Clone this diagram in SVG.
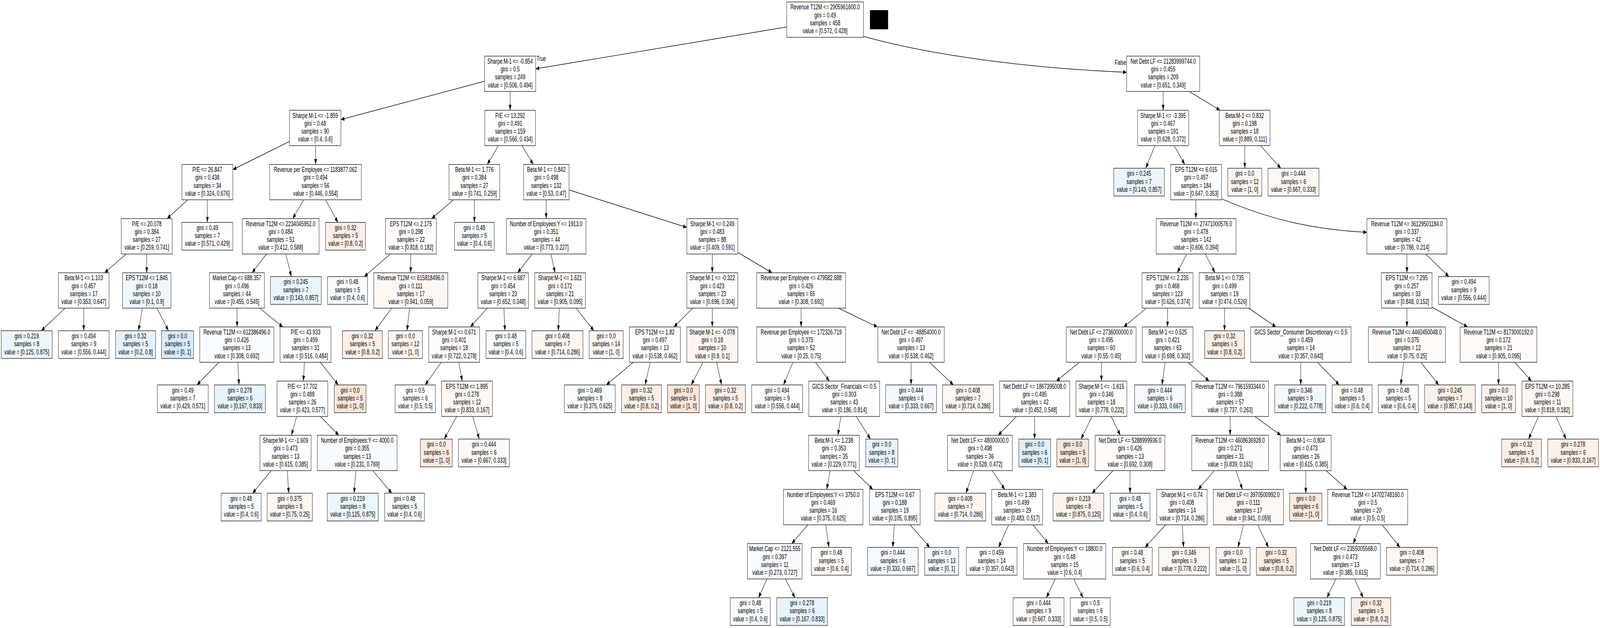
<svg xmlns="http://www.w3.org/2000/svg" width="6439" height="1607" viewBox="0 0 6439 1607" preserveAspectRatio="none">
<style>
svg{width:100vw;height:100vh}
.t{font-family:"Liberation Sans",Arial,Helvetica,sans-serif;font-size:18.7px;fill:#000;text-anchor:middle}
.lb{font-family:"Liberation Sans",Arial,Helvetica,sans-serif;font-size:18.7px;fill:#000}
rect.d,rect.l{stroke:#404040;stroke-width:1.7}
.e{fill:none;stroke:#000;stroke-width:1.4;marker-end:url(#ah)}
</style>
<defs>
<marker id="ah" markerUnits="userSpaceOnUse" markerWidth="14" markerHeight="11" viewBox="0 0 14 11" refX="14" refY="5.5" orient="auto"><path d="M0,0 L14,5.5 L0,11 z" fill="#000"/></marker>
</defs>
<rect x="0" y="0" width="6439" height="1607" fill="#ffffff"/>
<g id="connectors">
<path class="e" d="M3166,69 L2156,176"/>
<path class="e" d="M3475,93 C3680,130 4050,172 4534,185"/>
<path class="e" d="M1950,208 L1372,306"/>
<path class="e" d="M2053,234.1 L2053,282.2"/>
<path class="e" d="M1165,362 L937,434"/>
<path class="e" d="M1270,372.7 L1270,420.8"/>
<path class="e" d="M755,511.3 L672.5,559.4"/>
<path class="e" d="M834.5,511.3 L834.5,569.15"/>
<path class="e" d="M508,649.9 L421,698"/>
<path class="e" d="M590.5,649.9 L590.5,698"/>
<path class="e" d="M262,788.5 L166,846.35"/>
<path class="e" d="M337,788.5 L337,846.35"/>
<path class="e" d="M573,788.5 L557.5,846.35"/>
<path class="e" d="M631.5,788.5 L677.7,846.35"/>
<path class="e" d="M1222,511.3 L1178,559.4"/>
<path class="e" d="M1310,511.3 L1360,569.15"/>
<path class="e" d="M1072,649.9 L1014.5,698"/>
<path class="e" d="M1150,649.9 L1172.6,707.75"/>
<path class="e" d="M954,788.5 L954,836.6"/>
<path class="e" d="M1045,788.5 L1138,836.6"/>
<path class="e" d="M881,927.1 L792.7,984.95"/>
<path class="e" d="M957,927.1 L962,984.95"/>
<path class="e" d="M1225,927.1 L1221,975.2"/>
<path class="e" d="M1289,927.1 L1361.5,984.95"/>
<path class="e" d="M1194,1065.7 L1172.6,1113.8"/>
<path class="e" d="M1289,1065.7 L1363.6,1113.8"/>
<path class="e" d="M1091.5,1204.3 L1016.5,1262.15"/>
<path class="e" d="M1156,1204.3 L1162,1262.15"/>
<path class="e" d="M1432,1204.3 L1425,1262.15"/>
<path class="e" d="M1500,1204.3 L1577,1262.15"/>
<path class="e" d="M2006,372.7 L1961,420.8"/>
<path class="e" d="M2101,372.7 L2146,420.8"/>
<path class="e" d="M1824.6,511.3 L1737,559.4"/>
<path class="e" d="M1909,511.3 L1909,569.15"/>
<path class="e" d="M1571,649.9 L1466,707.75"/>
<path class="e" d="M1653,649.9 L1653,698"/>
<path class="e" d="M1576,788.5 L1509,846.35"/>
<path class="e" d="M1648,788.5 L1638,846.35"/>
<path class="e" d="M2198,511.3 L2198,559.4"/>
<path class="e" d="M2290,486 L2764,582"/>
<path class="e" d="M2142,649.9 L2083,698"/>
<path class="e" d="M2217,649.9 L2234,698"/>
<path class="e" d="M1961,788.5 L1893,836.6"/>
<path class="e" d="M2028,788.5 L2032,846.35"/>
<path class="e" d="M1776,927.1 L1711,984.95"/>
<path class="e" d="M1846,927.1 L1860.5,975.2"/>
<path class="e" d="M1838,1065.7 L1787.6,1123.55"/>
<path class="e" d="M1902.6,1065.7 L1929,1123.55"/>
<path class="e" d="M2251,788.5 L2246.6,846.35"/>
<path class="e" d="M2318.5,788.5 L2390,846.35"/>
<path class="e" d="M2866.5,649.9 L2866.5,698"/>
<path class="e" d="M2969.5,646 L3107,698"/>
<path class="e" d="M2788,788.5 L2712,836.6"/>
<path class="e" d="M2866.5,788.5 L2866.5,836.6"/>
<path class="e" d="M2548.5,927.1 L2440,984.95"/>
<path class="e" d="M2617,927.1 L2595.7,984.95"/>
<path class="e" d="M2829,927.1 L2781.6,984.95"/>
<path class="e" d="M2884,927.1 L2904,984.95"/>
<path class="e" d="M3224,788.5 L3224,836.6"/>
<path class="e" d="M3374,788.5 L3531,836.6"/>
<path class="e" d="M3191,927.1 L3153,984.95"/>
<path class="e" d="M3281.6,927.1 L3338,975.2"/>
<path class="e" d="M3384,1065.7 L3372,1113.8"/>
<path class="e" d="M3446,1065.7 L3503,1123.55"/>
<path class="e" d="M3341,1204.3 L3327,1252.4"/>
<path class="e" d="M3435.6,1204.3 L3512.6,1252.4"/>
<path class="e" d="M3251,1342.9 L3186,1391"/>
<path class="e" d="M3323,1342.9 L3336,1400.75"/>
<path class="e" d="M3086.5,1481.5 L3052.6,1529.5"/>
<path class="e" d="M3160.5,1481.5 L3199.5,1529.5"/>
<path class="e" d="M3599,1342.9 L3592.7,1400.75"/>
<path class="e" d="M3662.5,1342.9 L3741.6,1400.75"/>
<path class="e" d="M3666.5,927.1 L3666.5,984.95"/>
<path class="e" d="M3740.6,927.1 L3837,984.95"/>
<path class="e" d="M4681,234.1 L4681,282.2"/>
<path class="e" d="M4786,234.1 L4910,282.2"/>
<path class="e" d="M5009.5,372.7 L5009.5,430.55"/>
<path class="e" d="M5073,372.7 L5154.5,430.55"/>
<path class="e" d="M4648,372.7 L4611,430.55"/>
<path class="e" d="M4725,372.7 L4768,420.8"/>
<path class="e" d="M4812.6,511.3 L4812.6,559.4"/>
<path class="e" d="M4916,508.7 C5120,565 5300,588 5501,594.4"/>
<path class="e" d="M5662,649.9 L5662,698"/>
<path class="e" d="M5737,649.9 L5831,707.75"/>
<path class="e" d="M5662,788.5 L5662,836.6"/>
<path class="e" d="M5763,786 L5906,836.6"/>
<path class="e" d="M5649,927.1 L5637,984.95"/>
<path class="e" d="M5718,927.1 L5790,984.95"/>
<path class="e" d="M6030.5,927.1 L6030.5,984.95"/>
<path class="e" d="M6096,927.1 L6163,975.2"/>
<path class="e" d="M6191.5,1065.7 L6151.5,1123.55"/>
<path class="e" d="M6262,1065.7 L6302.4,1123.55"/>
<path class="e" d="M4775.6,649.9 L4737.6,698"/>
<path class="e" d="M4850.5,649.9 L4889.6,698"/>
<path class="e" d="M4928,788.5 L4928,846.35"/>
<path class="e" d="M5025,788.5 L5135,836.6"/>
<path class="e" d="M5234.6,927.1 L5234.6,984.95"/>
<path class="e" d="M5302,927.1 L5389.6,984.95"/>
<path class="e" d="M4613.5,788.5 L4522,836.6"/>
<path class="e" d="M4698.6,788.5 L4698.6,836.6"/>
<path class="e" d="M4344,927.1 L4251,975.2"/>
<path class="e" d="M4432.6,927.1 L4432.6,975.2"/>
<path class="e" d="M4090.7,1065.7 L4017,1113.8"/>
<path class="e" d="M4163.6,1065.7 L4163.6,1123.55"/>
<path class="e" d="M3918,1204.3 L3887.4,1262.15"/>
<path class="e" d="M3993,1204.3 L4043.5,1252.4"/>
<path class="e" d="M4059,1342.9 L4018.8,1400.75"/>
<path class="e" d="M4156.5,1342.9 L4219,1391"/>
<path class="e" d="M4247,1481.5 L4211,1529.5"/>
<path class="e" d="M4320.7,1481.5 L4358.7,1529.5"/>
<path class="e" d="M4394.6,1065.7 L4350.5,1123.55"/>
<path class="e" d="M4471.7,1065.7 L4508.6,1113.8"/>
<path class="e" d="M4479,1204.3 L4394.6,1262.15"/>
<path class="e" d="M4547.6,1204.3 L4547.6,1262.15"/>
<path class="e" d="M4689,927.1 L4676,984.95"/>
<path class="e" d="M4781,927.1 L4866,975.2"/>
<path class="e" d="M4950.5,1065.7 L4950.5,1113.8"/>
<path class="e" d="M5049.7,1065.7 L5154.5,1113.8"/>
<path class="e" d="M4886.5,1204.3 L4822,1252.4"/>
<path class="e" d="M4974,1204.3 L5000,1252.4"/>
<path class="e" d="M4691,1342.9 L4608,1400.75"/>
<path class="e" d="M4758,1342.9 L4763,1400.75"/>
<path class="e" d="M5004.5,1342.9 L4982,1400.75"/>
<path class="e" d="M5061,1342.9 L5105,1400.75"/>
<path class="e" d="M5255,1204.3 L5255,1262.15"/>
<path class="e" d="M5337,1204.3 L5421.4,1252.4"/>
<path class="e" d="M5475,1342.9 L5446,1391"/>
<path class="e" d="M5562,1342.9 L5634,1400.75"/>
<path class="e" d="M5376,1481.5 L5340,1529.5"/>
<path class="e" d="M5451,1481.5 L5486,1529.5"/>
<text class="lb" x="2159" y="156">True</text>
<text class="lb" x="4532" y="166" text-anchor="end">False</text>
</g>
<rect x="3501" y="26" width="73" height="49" fill="#000000"/>
<g id="n0" transform="translate(3320.5,50.25)"><rect class="d" x="-154.5" y="-45.25" width="309" height="90.5" fill="#ffffff"/><text class="t"><tspan x="0" y="-25.95">Revenue T12M &lt;= 2905961600.0</tspan><tspan x="0" y="-5.7">gini = 0.49</tspan><tspan x="0" y="14.55">samples = 458</tspan><tspan x="0" y="34.8">value = [0.572, 0.428]</tspan></text></g>
<g id="n1" transform="translate(2053,188.85)"><rect class="d" x="-103" y="-45.25" width="206" height="90.5" fill="#ffffff"/><text class="t"><tspan x="0" y="-25.95">Sharpe:M-1 &lt;= -0.854</tspan><tspan x="0" y="-5.7">gini = 0.5</tspan><tspan x="0" y="14.55">samples = 249</tspan><tspan x="0" y="34.8">value = [0.506, 0.494]</tspan></text></g>
<g id="n2" transform="translate(4681,188.85)"><rect class="d" x="-147" y="-45.25" width="294" height="90.5" fill="#ffffff"/><text class="t"><tspan x="0" y="-25.95">Net Debt LF &lt;= 21283999744.0</tspan><tspan x="0" y="-5.7">gini = 0.455</tspan><tspan x="0" y="14.55">samples = 209</tspan><tspan x="0" y="34.8">value = [0.651, 0.349]</tspan></text></g>
<g id="n3" transform="translate(1268.5,327.45)"><rect class="d" x="-103.5" y="-45.25" width="207" height="90.5" fill="#ffffff"/><text class="t"><tspan x="0" y="-25.95">Sharpe:M-1 &lt;= -1.859</tspan><tspan x="0" y="-5.7">gini = 0.48</tspan><tspan x="0" y="14.55">samples = 90</tspan><tspan x="0" y="34.8">value = [0.4, 0.6]</tspan></text></g>
<g id="n4" transform="translate(2053,327.45)"><rect class="d" x="-102" y="-45.25" width="204" height="90.5" fill="#ffffff"/><text class="t"><tspan x="0" y="-25.95">P/E &lt;= 13.292</tspan><tspan x="0" y="-5.7">gini = 0.491</tspan><tspan x="0" y="14.55">samples = 159</tspan><tspan x="0" y="34.8">value = [0.566, 0.434]</tspan></text></g>
<g id="n5" transform="translate(834.5,466.05)"><rect class="d" x="-102.5" y="-45.25" width="205" height="90.5" fill="#fdfeff"/><text class="t"><tspan x="0" y="-25.95">P/E &lt;= 26.847</tspan><tspan x="0" y="-5.7">gini = 0.438</tspan><tspan x="0" y="14.55">samples = 34</tspan><tspan x="0" y="34.8">value = [0.324, 0.676]</tspan></text></g>
<g id="n6" transform="translate(1269.5,466.05)"><rect class="d" x="-184.5" y="-45.25" width="369" height="90.5" fill="#ffffff"/><text class="t"><tspan x="0" y="-25.95">Revenue per Employee &lt;= 1183877.062</tspan><tspan x="0" y="-5.7">gini = 0.494</tspan><tspan x="0" y="14.55">samples = 56</tspan><tspan x="0" y="34.8">value = [0.446, 0.554]</tspan></text></g>
<g id="n7" transform="translate(590.5,604.65)"><rect class="d" x="-102.5" y="-45.25" width="205" height="90.5" fill="#fbfdff"/><text class="t"><tspan x="0" y="-25.95">P/E &lt;= 20.078</tspan><tspan x="0" y="-5.7">gini = 0.384</tspan><tspan x="0" y="14.55">samples = 27</tspan><tspan x="0" y="34.8">value = [0.259, 0.741]</tspan></text></g>
<g id="n8" transform="translate(834.5,604.65)"><rect class="l" x="-102.5" y="-35.5" width="205" height="71" fill="#fefcfb"/><text class="t"><tspan x="0" y="-15.8">gini = 0.49</tspan><tspan x="0" y="4.45">samples = 7</tspan><tspan x="0" y="24.7">value = [0.571, 0.429]</tspan></text></g>
<g id="n9" transform="translate(337,743.25)"><rect class="d" x="-102" y="-45.25" width="204" height="90.5" fill="#fbfdff"/><text class="t"><tspan x="0" y="-25.95">Beta:M-1 &lt;= 1.103</tspan><tspan x="0" y="-5.7">gini = 0.457</tspan><tspan x="0" y="14.55">samples = 17</tspan><tspan x="0" y="34.8">value = [0.353, 0.647]</tspan></text></g>
<g id="n10" transform="translate(590.5,743.25)"><rect class="d" x="-97.5" y="-45.25" width="195" height="90.5" fill="#eff7fd"/><text class="t"><tspan x="0" y="-25.95">EPS T12M &lt;= 1.845</tspan><tspan x="0" y="-5.7">gini = 0.18</tspan><tspan x="0" y="14.55">samples = 10</tspan><tspan x="0" y="34.8">value = [0.1, 0.9]</tspan></text></g>
<g id="n11" transform="translate(107.5,881.85)"><rect class="l" x="-102.5" y="-35.5" width="205" height="71" fill="#ecf6fd"/><text class="t"><tspan x="0" y="-15.8">gini = 0.219</tspan><tspan x="0" y="4.45">samples = 8</tspan><tspan x="0" y="24.7">value = [0.125, 0.875]</tspan></text></g>
<g id="n12" transform="translate(337,881.85)"><rect class="l" x="-102" y="-35.5" width="204" height="71" fill="#fffdfc"/><text class="t"><tspan x="0" y="-15.8">gini = 0.494</tspan><tspan x="0" y="4.45">samples = 9</tspan><tspan x="0" y="24.7">value = [0.556, 0.444]</tspan></text></g>
<g id="n13" transform="translate(545.5,881.85)"><rect class="l" x="-80.5" y="-35.5" width="161" height="71" fill="#e6f3fc"/><text class="t"><tspan x="0" y="-15.8">gini = 0.32</tspan><tspan x="0" y="4.45">samples = 5</tspan><tspan x="0" y="24.7">value = [0.2, 0.8]</tspan></text></g>
<g id="n14" transform="translate(714.5,881.85)"><rect class="l" x="-64.5" y="-35.5" width="129" height="71" fill="#d7ebfa"/><text class="t"><tspan x="0" y="-15.8">gini = 0.0</tspan><tspan x="0" y="4.45">samples = 5</tspan><tspan x="0" y="24.7">value = [0, 1]</tspan></text></g>
<g id="n15" transform="translate(1129.5,604.65)"><rect class="d" x="-154.5" y="-45.25" width="309" height="90.5" fill="#feffff"/><text class="t"><tspan x="0" y="-25.95">Revenue T12M &lt;= 2234045952.0</tspan><tspan x="0" y="-5.7">gini = 0.484</tspan><tspan x="0" y="14.55">samples = 51</tspan><tspan x="0" y="34.8">value = [0.412, 0.588]</tspan></text></g>
<g id="n16" transform="translate(1390.5,604.65)"><rect class="l" x="-80.5" y="-35.5" width="161" height="71" fill="#fcefe6"/><text class="t"><tspan x="0" y="-15.8">gini = 0.32</tspan><tspan x="0" y="4.45">samples = 5</tspan><tspan x="0" y="24.7">value = [0.8, 0.2]</tspan></text></g>
<g id="n17" transform="translate(953.5,743.25)"><rect class="d" x="-110.5" y="-45.25" width="221" height="90.5" fill="#ffffff"/><text class="t"><tspan x="0" y="-25.95">Market Cap &lt;= 688.357</tspan><tspan x="0" y="-5.7">gini = 0.496</tspan><tspan x="0" y="14.55">samples = 44</tspan><tspan x="0" y="34.8">value = [0.455, 0.545]</tspan></text></g>
<g id="n18" transform="translate(1190.5,743.25)"><rect class="l" x="-102.5" y="-35.5" width="205" height="71" fill="#eaf5fc"/><text class="t"><tspan x="0" y="-15.8">gini = 0.245</tspan><tspan x="0" y="4.45">samples = 7</tspan><tspan x="0" y="24.7">value = [0.143, 0.857]</tspan></text></g>
<g id="n19" transform="translate(953,881.85)"><rect class="d" x="-149" y="-45.25" width="298" height="90.5" fill="#f9fcfe"/><text class="t"><tspan x="0" y="-25.95">Revenue T12M &lt;= 612386496.0</tspan><tspan x="0" y="-5.7">gini = 0.426</tspan><tspan x="0" y="14.55">samples = 13</tspan><tspan x="0" y="34.8">value = [0.308, 0.692]</tspan></text></g>
<g id="n20" transform="translate(1229.5,881.85)"><rect class="d" x="-102.5" y="-45.25" width="205" height="90.5" fill="#ffffff"/><text class="t"><tspan x="0" y="-25.95">P/E &lt;= 43.933</tspan><tspan x="0" y="-5.7">gini = 0.499</tspan><tspan x="0" y="14.55">samples = 31</tspan><tspan x="0" y="34.8">value = [0.516, 0.484]</tspan></text></g>
<g id="n21" transform="translate(735.5,1020.45)"><rect class="l" x="-102.5" y="-35.5" width="205" height="71" fill="#fbfdfe"/><text class="t"><tspan x="0" y="-15.8">gini = 0.49</tspan><tspan x="0" y="4.45">samples = 7</tspan><tspan x="0" y="24.7">value = [0.429, 0.571]</tspan></text></g>
<g id="n22" transform="translate(965.5,1020.45)"><rect class="l" x="-102.5" y="-35.5" width="205" height="71" fill="#e8f4fc"/><text class="t"><tspan x="0" y="-15.8">gini = 0.278</tspan><tspan x="0" y="4.45">samples = 6</tspan><tspan x="0" y="24.7">value = [0.167, 0.833]</tspan></text></g>
<g id="n23" transform="translate(1217,1020.45)"><rect class="d" x="-102" y="-45.25" width="204" height="90.5" fill="#fefeff"/><text class="t"><tspan x="0" y="-25.95">P/E &lt;= 17.702</tspan><tspan x="0" y="-5.7">gini = 0.488</tspan><tspan x="0" y="14.55">samples = 26</tspan><tspan x="0" y="34.8">value = [0.423, 0.577]</tspan></text></g>
<g id="n24" transform="translate(1409,1020.45)"><rect class="l" x="-64" y="-35.5" width="128" height="71" fill="#fae6d7"/><text class="t"><tspan x="0" y="-15.8">gini = 0.0</tspan><tspan x="0" y="4.45">samples = 5</tspan><tspan x="0" y="24.7">value = [1, 0]</tspan></text></g>
<g id="n25" transform="translate(1149,1159.05)"><rect class="d" x="-103" y="-45.25" width="206" height="90.5" fill="#fefdfb"/><text class="t"><tspan x="0" y="-25.95">Sharpe:M-1 &lt;= -1.609</tspan><tspan x="0" y="-5.7">gini = 0.473</tspan><tspan x="0" y="14.55">samples = 13</tspan><tspan x="0" y="34.8">value = [0.615, 0.385]</tspan></text></g>
<g id="n26" transform="translate(1437.5,1159.05)"><rect class="d" x="-160.5" y="-45.25" width="321" height="90.5" fill="#f7fbfe"/><text class="t"><tspan x="0" y="-25.95">Number of Employees:Y &lt;= 4000.0</tspan><tspan x="0" y="-5.7">gini = 0.355</tspan><tspan x="0" y="14.55">samples = 13</tspan><tspan x="0" y="34.8">value = [0.231, 0.769]</tspan></text></g>
<g id="n27" transform="translate(970.5,1297.65)"><rect class="l" x="-80.5" y="-35.5" width="161" height="71" fill="#f6fbfe"/><text class="t"><tspan x="0" y="-15.8">gini = 0.48</tspan><tspan x="0" y="4.45">samples = 5</tspan><tspan x="0" y="24.7">value = [0.4, 0.6]</tspan></text></g>
<g id="n28" transform="translate(1166,1297.65)"><rect class="l" x="-91" y="-35.5" width="182" height="71" fill="#fdf7f2"/><text class="t"><tspan x="0" y="-15.8">gini = 0.375</tspan><tspan x="0" y="4.45">samples = 8</tspan><tspan x="0" y="24.7">value = [0.75, 0.25]</tspan></text></g>
<g id="n29" transform="translate(1419.5,1297.65)"><rect class="l" x="-102.5" y="-35.5" width="205" height="71" fill="#ecf6fd"/><text class="t"><tspan x="0" y="-15.8">gini = 0.219</tspan><tspan x="0" y="4.45">samples = 8</tspan><tspan x="0" y="24.7">value = [0.125, 0.875]</tspan></text></g>
<g id="n30" transform="translate(1628,1297.65)"><rect class="l" x="-80" y="-35.5" width="160" height="71" fill="#f6fbfe"/><text class="t"><tspan x="0" y="-15.8">gini = 0.48</tspan><tspan x="0" y="4.45">samples = 5</tspan><tspan x="0" y="24.7">value = [0.4, 0.6]</tspan></text></g>
<g id="n31" transform="translate(1909,466.05)"><rect class="d" x="-102" y="-45.25" width="204" height="90.5" fill="#fefdfb"/><text class="t"><tspan x="0" y="-25.95">Beta:M-1 &lt;= 1.776</tspan><tspan x="0" y="-5.7">gini = 0.384</tspan><tspan x="0" y="14.55">samples = 27</tspan><tspan x="0" y="34.8">value = [0.741, 0.259]</tspan></text></g>
<g id="n32" transform="translate(2198.5,466.05)"><rect class="d" x="-91.5" y="-45.25" width="183" height="90.5" fill="#ffffff"/><text class="t"><tspan x="0" y="-25.95">Beta:M-1 &lt;= 0.842</tspan><tspan x="0" y="-5.7">gini = 0.498</tspan><tspan x="0" y="14.55">samples = 132</tspan><tspan x="0" y="34.8">value = [0.53, 0.47]</tspan></text></g>
<g id="n33" transform="translate(1653.5,604.65)"><rect class="d" x="-102.5" y="-45.25" width="205" height="90.5" fill="#fefbf9"/><text class="t"><tspan x="0" y="-25.95">EPS T12M &lt;= 2.175</tspan><tspan x="0" y="-5.7">gini = 0.298</tspan><tspan x="0" y="14.55">samples = 22</tspan><tspan x="0" y="34.8">value = [0.818, 0.182]</tspan></text></g>
<g id="n34" transform="translate(1909,604.65)"><rect class="l" x="-80" y="-35.5" width="160" height="71" fill="#f6fbfe"/><text class="t"><tspan x="0" y="-15.8">gini = 0.48</tspan><tspan x="0" y="4.45">samples = 5</tspan><tspan x="0" y="24.7">value = [0.4, 0.6]</tspan></text></g>
<g id="n35" transform="translate(1398.5,743.25)"><rect class="l" x="-80.5" y="-35.5" width="161" height="71" fill="#f6fbfe"/><text class="t"><tspan x="0" y="-15.8">gini = 0.48</tspan><tspan x="0" y="4.45">samples = 5</tspan><tspan x="0" y="24.7">value = [0.4, 0.6]</tspan></text></g>
<g id="n36" transform="translate(1653,743.25)"><rect class="d" x="-149" y="-45.25" width="298" height="90.5" fill="#fef8f5"/><text class="t"><tspan x="0" y="-25.95">Revenue T12M &lt;= 615818496.0</tspan><tspan x="0" y="-5.7">gini = 0.111</tspan><tspan x="0" y="14.55">samples = 17</tspan><tspan x="0" y="34.8">value = [0.941, 0.059]</tspan></text></g>
<g id="n37" transform="translate(1458.5,881.85)"><rect class="l" x="-80.5" y="-35.5" width="161" height="71" fill="#fcefe6"/><text class="t"><tspan x="0" y="-15.8">gini = 0.32</tspan><tspan x="0" y="4.45">samples = 5</tspan><tspan x="0" y="24.7">value = [0.8, 0.2]</tspan></text></g>
<g id="n38" transform="translate(1631.5,881.85)"><rect class="l" x="-68.5" y="-35.5" width="137" height="71" fill="#fdf5ef"/><text class="t"><tspan x="0" y="-15.8">gini = 0.0</tspan><tspan x="0" y="4.45">samples = 12</tspan><tspan x="0" y="24.7">value = [1, 0]</tspan></text></g>
<g id="n39" transform="translate(2198,604.65)"><rect class="d" x="-160" y="-45.25" width="320" height="90.5" fill="#fffdfc"/><text class="t"><tspan x="0" y="-25.95">Number of Employees:Y &lt;= 1913.0</tspan><tspan x="0" y="-5.7">gini = 0.351</tspan><tspan x="0" y="14.55">samples = 44</tspan><tspan x="0" y="34.8">value = [0.773, 0.227]</tspan></text></g>
<g id="n40" transform="translate(2866.5,604.65)"><rect class="d" x="-102.5" y="-45.25" width="205" height="90.5" fill="#ffffff"/><text class="t"><tspan x="0" y="-25.95">Sharpe:M-1 &lt;= 0.249</tspan><tspan x="0" y="-5.7">gini = 0.483</tspan><tspan x="0" y="14.55">samples = 88</tspan><tspan x="0" y="34.8">value = [0.409, 0.591]</tspan></text></g>
<g id="n41" transform="translate(2025,743.25)"><rect class="d" x="-102" y="-45.25" width="204" height="90.5" fill="#fffdfc"/><text class="t"><tspan x="0" y="-25.95">Sharpe:M-1 &lt;= 6.687</tspan><tspan x="0" y="-5.7">gini = 0.454</tspan><tspan x="0" y="14.55">samples = 23</tspan><tspan x="0" y="34.8">value = [0.652, 0.348]</tspan></text></g>
<g id="n42" transform="translate(2254,743.25)"><rect class="d" x="-102" y="-45.25" width="204" height="90.5" fill="#fefaf7"/><text class="t"><tspan x="0" y="-25.95">Sharpe:M-1 &lt;= 1.621</tspan><tspan x="0" y="-5.7">gini = 0.172</tspan><tspan x="0" y="14.55">samples = 21</tspan><tspan x="0" y="34.8">value = [0.905, 0.095]</tspan></text></g>
<g id="n43" transform="translate(1827.5,881.85)"><rect class="d" x="-102.5" y="-45.25" width="205" height="90.5" fill="#fefcfa"/><text class="t"><tspan x="0" y="-25.95">Sharpe:M-1 &lt;= 0.671</tspan><tspan x="0" y="-5.7">gini = 0.401</tspan><tspan x="0" y="14.55">samples = 18</tspan><tspan x="0" y="34.8">value = [0.722, 0.278]</tspan></text></g>
<g id="n44" transform="translate(2036,881.85)"><rect class="l" x="-80" y="-35.5" width="160" height="71" fill="#f6fbfe"/><text class="t"><tspan x="0" y="-15.8">gini = 0.48</tspan><tspan x="0" y="4.45">samples = 5</tspan><tspan x="0" y="24.7">value = [0.4, 0.6]</tspan></text></g>
<g id="n45" transform="translate(1671,1020.45)"><rect class="l" x="-81" y="-35.5" width="162" height="71" fill="#ffffff"/><text class="t"><tspan x="0" y="-15.8">gini = 0.5</tspan><tspan x="0" y="4.45">samples = 6</tspan><tspan x="0" y="24.7">value = [0.5, 0.5]</tspan></text></g>
<g id="n46" transform="translate(1879.5,1020.45)"><rect class="d" x="-102.5" y="-45.25" width="205" height="90.5" fill="#fef8f4"/><text class="t"><tspan x="0" y="-25.95">EPS T12M &lt;= 1.895</tspan><tspan x="0" y="-5.7">gini = 0.278</tspan><tspan x="0" y="14.55">samples = 12</tspan><tspan x="0" y="34.8">value = [0.833, 0.167]</tspan></text></g>
<g id="n47" transform="translate(1756,1159.05)"><rect class="l" x="-64" y="-35.5" width="128" height="71" fill="#fbeade"/><text class="t"><tspan x="0" y="-15.8">gini = 0.0</tspan><tspan x="0" y="4.45">samples = 6</tspan><tspan x="0" y="24.7">value = [1, 0]</tspan></text></g>
<g id="n48" transform="translate(1947.5,1159.05)"><rect class="l" x="-102.5" y="-35.5" width="205" height="71" fill="#fdf8f3"/><text class="t"><tspan x="0" y="-15.8">gini = 0.444</tspan><tspan x="0" y="4.45">samples = 6</tspan><tspan x="0" y="24.7">value = [0.667, 0.333]</tspan></text></g>
<g id="n49" transform="translate(2243.5,881.85)"><rect class="l" x="-102.5" y="-35.5" width="205" height="71" fill="#fdf7f2"/><text class="t"><tspan x="0" y="-15.8">gini = 0.408</tspan><tspan x="0" y="4.45">samples = 7</tspan><tspan x="0" y="24.7">value = [0.714, 0.286]</tspan></text></g>
<g id="n50" transform="translate(2439.5,881.85)"><rect class="l" x="-68.5" y="-35.5" width="137" height="71" fill="#fdf6f1"/><text class="t"><tspan x="0" y="-15.8">gini = 0.0</tspan><tspan x="0" y="4.45">samples = 14</tspan><tspan x="0" y="24.7">value = [1, 0]</tspan></text></g>
<g id="n51" transform="translate(2866.5,743.25)"><rect class="d" x="-102.5" y="-45.25" width="205" height="90.5" fill="#fffdfc"/><text class="t"><tspan x="0" y="-25.95">Sharpe:M-1 &lt;= -0.322</tspan><tspan x="0" y="-5.7">gini = 0.423</tspan><tspan x="0" y="14.55">samples = 23</tspan><tspan x="0" y="34.8">value = [0.696, 0.304]</tspan></text></g>
<g id="n52" transform="translate(3224,743.25)"><rect class="d" x="-179" y="-45.25" width="358" height="90.5" fill="#fefeff"/><text class="t"><tspan x="0" y="-25.95">Revenue per Employee &lt;= 479582.688</tspan><tspan x="0" y="-5.7">gini = 0.426</tspan><tspan x="0" y="14.55">samples = 65</tspan><tspan x="0" y="34.8">value = [0.308, 0.692]</tspan></text></g>
<g id="n53" transform="translate(2635.5,881.85)"><rect class="d" x="-102.5" y="-45.25" width="205" height="90.5" fill="#fffefe"/><text class="t"><tspan x="0" y="-25.95">EPS T12M &lt;= 1.82</tspan><tspan x="0" y="-5.7">gini = 0.497</tspan><tspan x="0" y="14.55">samples = 13</tspan><tspan x="0" y="34.8">value = [0.538, 0.462]</tspan></text></g>
<g id="n54" transform="translate(2866.5,881.85)"><rect class="d" x="-102.5" y="-45.25" width="205" height="90.5" fill="#fdf5ef"/><text class="t"><tspan x="0" y="-25.95">Sharpe:M-1 &lt;= -0.078</tspan><tspan x="0" y="-5.7">gini = 0.18</tspan><tspan x="0" y="14.55">samples = 10</tspan><tspan x="0" y="34.8">value = [0.9, 0.1]</tspan></text></g>
<g id="n55" transform="translate(2373.5,1020.45)"><rect class="l" x="-102.5" y="-35.5" width="205" height="71" fill="#f8fcfe"/><text class="t"><tspan x="0" y="-15.8">gini = 0.469</tspan><tspan x="0" y="4.45">samples = 8</tspan><tspan x="0" y="24.7">value = [0.375, 0.625]</tspan></text></g>
<g id="n56" transform="translate(2581.5,1020.45)"><rect class="l" x="-80.5" y="-35.5" width="161" height="71" fill="#fcefe6"/><text class="t"><tspan x="0" y="-15.8">gini = 0.32</tspan><tspan x="0" y="4.45">samples = 5</tspan><tspan x="0" y="24.7">value = [0.8, 0.2]</tspan></text></g>
<g id="n57" transform="translate(2750,1020.45)"><rect class="l" x="-64" y="-35.5" width="128" height="71" fill="#fae6d7"/><text class="t"><tspan x="0" y="-15.8">gini = 0.0</tspan><tspan x="0" y="4.45">samples = 5</tspan><tspan x="0" y="24.7">value = [1, 0]</tspan></text></g>
<g id="n58" transform="translate(2919.5,1020.45)"><rect class="l" x="-80.5" y="-35.5" width="161" height="71" fill="#fcefe6"/><text class="t"><tspan x="0" y="-15.8">gini = 0.32</tspan><tspan x="0" y="4.45">samples = 5</tspan><tspan x="0" y="24.7">value = [0.8, 0.2]</tspan></text></g>
<g id="n59" transform="translate(3224,881.85)"><rect class="d" x="-179" y="-45.25" width="358" height="90.5" fill="#fdfeff"/><text class="t"><tspan x="0" y="-25.95">Revenue per Employee &lt;= 172326.719</tspan><tspan x="0" y="-5.7">gini = 0.375</tspan><tspan x="0" y="14.55">samples = 52</tspan><tspan x="0" y="34.8">value = [0.25, 0.75]</tspan></text></g>
<g id="n60" transform="translate(3666.5,881.85)"><rect class="d" x="-133.5" y="-45.25" width="267" height="90.5" fill="#fffefe"/><text class="t"><tspan x="0" y="-25.95">Net Debt LF &lt;= -48854000.0</tspan><tspan x="0" y="-5.7">gini = 0.497</tspan><tspan x="0" y="14.55">samples = 13</tspan><tspan x="0" y="34.8">value = [0.538, 0.462]</tspan></text></g>
<g id="n61" transform="translate(3127.5,1020.45)"><rect class="l" x="-102.5" y="-35.5" width="205" height="71" fill="#fffdfc"/><text class="t"><tspan x="0" y="-15.8">gini = 0.494</tspan><tspan x="0" y="4.45">samples = 9</tspan><tspan x="0" y="24.7">value = [0.556, 0.444]</tspan></text></g>
<g id="n62" transform="translate(3397.5,1020.45)"><rect class="d" x="-142.5" y="-45.25" width="285" height="90.5" fill="#fcfeff"/><text class="t"><tspan x="0" y="-25.95">GICS Sector_Financials &lt;= 0.5</tspan><tspan x="0" y="-5.7">gini = 0.303</tspan><tspan x="0" y="14.55">samples = 43</tspan><tspan x="0" y="34.8">value = [0.186, 0.814]</tspan></text></g>
<g id="n63" transform="translate(3356,1159.05)"><rect class="d" x="-102" y="-45.25" width="204" height="90.5" fill="#fcfdff"/><text class="t"><tspan x="0" y="-25.95">Beta:M-1 &lt;= 1.238</tspan><tspan x="0" y="-5.7">gini = 0.353</tspan><tspan x="0" y="14.55">samples = 35</tspan><tspan x="0" y="34.8">value = [0.229, 0.771]</tspan></text></g>
<g id="n64" transform="translate(3548.5,1159.05)"><rect class="l" x="-64.5" y="-35.5" width="129" height="71" fill="#e6f3fc"/><text class="t"><tspan x="0" y="-15.8">gini = 0.0</tspan><tspan x="0" y="4.45">samples = 8</tspan><tspan x="0" y="24.7">value = [0, 1]</tspan></text></g>
<g id="n65" transform="translate(3313,1297.65)"><rect class="d" x="-160" y="-45.25" width="320" height="90.5" fill="#fcfdff"/><text class="t"><tspan x="0" y="-25.95">Number of Employees:Y &lt;= 3750.0</tspan><tspan x="0" y="-5.7">gini = 0.469</tspan><tspan x="0" y="14.55">samples = 16</tspan><tspan x="0" y="34.8">value = [0.375, 0.625]</tspan></text></g>
<g id="n66" transform="translate(3601,1297.65)"><rect class="d" x="-102" y="-45.25" width="204" height="90.5" fill="#f7fbfe"/><text class="t"><tspan x="0" y="-25.95">EPS T12M &lt;= 0.67</tspan><tspan x="0" y="-5.7">gini = 0.188</tspan><tspan x="0" y="14.55">samples = 19</tspan><tspan x="0" y="34.8">value = [0.105, 0.895]</tspan></text></g>
<g id="n67" transform="translate(3118,1436.25)"><rect class="d" x="-110" y="-45.25" width="220" height="90.5" fill="#f7fbfe"/><text class="t"><tspan x="0" y="-25.95">Market Cap &lt;= 2121.555</tspan><tspan x="0" y="-5.7">gini = 0.397</tspan><tspan x="0" y="14.55">samples = 11</tspan><tspan x="0" y="34.8">value = [0.273, 0.727]</tspan></text></g>
<g id="n68" transform="translate(3345.5,1436.25)"><rect class="l" x="-80.5" y="-35.5" width="161" height="71" fill="#fefaf6"/><text class="t"><tspan x="0" y="-15.8">gini = 0.48</tspan><tspan x="0" y="4.45">samples = 5</tspan><tspan x="0" y="24.7">value = [0.6, 0.4]</tspan></text></g>
<g id="n69" transform="translate(3019.5,1565)"><rect class="l" x="-80.5" y="-35.5" width="161" height="71" fill="#f6fbfe"/><text class="t"><tspan x="0" y="-15.8">gini = 0.48</tspan><tspan x="0" y="4.45">samples = 5</tspan><tspan x="0" y="24.7">value = [0.4, 0.6]</tspan></text></g>
<g id="n70" transform="translate(3228,1565)"><rect class="l" x="-102" y="-35.5" width="204" height="71" fill="#e8f4fc"/><text class="t"><tspan x="0" y="-15.8">gini = 0.278</tspan><tspan x="0" y="4.45">samples = 6</tspan><tspan x="0" y="24.7">value = [0.167, 0.833]</tspan></text></g>
<g id="n71" transform="translate(3593,1436.25)"><rect class="l" x="-102" y="-35.5" width="204" height="71" fill="#f3f9fe"/><text class="t"><tspan x="0" y="-15.8">gini = 0.444</tspan><tspan x="0" y="4.45">samples = 6</tspan><tspan x="0" y="24.7">value = [0.333, 0.667]</tspan></text></g>
<g id="n72" transform="translate(3789.5,1436.25)"><rect class="l" x="-68.5" y="-35.5" width="137" height="71" fill="#f0f8fd"/><text class="t"><tspan x="0" y="-15.8">gini = 0.0</tspan><tspan x="0" y="4.45">samples = 13</tspan><tspan x="0" y="24.7">value = [0, 1]</tspan></text></g>
<g id="n73" transform="translate(3666.5,1020.45)"><rect class="l" x="-102.5" y="-35.5" width="205" height="71" fill="#f3f9fe"/><text class="t"><tspan x="0" y="-15.8">gini = 0.444</tspan><tspan x="0" y="4.45">samples = 6</tspan><tspan x="0" y="24.7">value = [0.333, 0.667]</tspan></text></g>
<g id="n74" transform="translate(3895.5,1020.45)"><rect class="l" x="-102.5" y="-35.5" width="205" height="71" fill="#fdf7f2"/><text class="t"><tspan x="0" y="-15.8">gini = 0.408</tspan><tspan x="0" y="4.45">samples = 7</tspan><tspan x="0" y="24.7">value = [0.714, 0.286]</tspan></text></g>
<g id="n75" transform="translate(4681,327.45)"><rect class="d" x="-103" y="-45.25" width="206" height="90.5" fill="#ffffff"/><text class="t"><tspan x="0" y="-25.95">Sharpe:M-1 &lt;= -3.395</tspan><tspan x="0" y="-5.7">gini = 0.467</tspan><tspan x="0" y="14.55">samples = 191</tspan><tspan x="0" y="34.8">value = [0.628, 0.372]</tspan></text></g>
<g id="n76" transform="translate(5009,327.45)"><rect class="d" x="-102" y="-45.25" width="204" height="90.5" fill="#fefaf6"/><text class="t"><tspan x="0" y="-25.95">Beta:M-1 &lt;= 0.832</tspan><tspan x="0" y="-5.7">gini = 0.198</tspan><tspan x="0" y="14.55">samples = 18</tspan><tspan x="0" y="34.8">value = [0.889, 0.111]</tspan></text></g>
<g id="n77" transform="translate(5009.5,466.05)"><rect class="l" x="-68.5" y="-35.5" width="137" height="71" fill="#fdf5ef"/><text class="t"><tspan x="0" y="-15.8">gini = 0.0</tspan><tspan x="0" y="4.45">samples = 12</tspan><tspan x="0" y="24.7">value = [1, 0]</tspan></text></g>
<g id="n78" transform="translate(5205.5,466.05)"><rect class="l" x="-102.5" y="-35.5" width="205" height="71" fill="#fdf8f3"/><text class="t"><tspan x="0" y="-15.8">gini = 0.444</tspan><tspan x="0" y="4.45">samples = 6</tspan><tspan x="0" y="24.7">value = [0.667, 0.333]</tspan></text></g>
<g id="n79" transform="translate(4584,466.05)"><rect class="l" x="-102" y="-35.5" width="204" height="71" fill="#eaf5fc"/><text class="t"><tspan x="0" y="-15.8">gini = 0.245</tspan><tspan x="0" y="4.45">samples = 7</tspan><tspan x="0" y="24.7">value = [0.143, 0.857]</tspan></text></g>
<g id="n80" transform="translate(4813.5,466.05)"><rect class="d" x="-102.5" y="-45.25" width="205" height="90.5" fill="#ffffff"/><text class="t"><tspan x="0" y="-25.95">EPS T12M &lt;= 6.015</tspan><tspan x="0" y="-5.7">gini = 0.457</tspan><tspan x="0" y="14.55">samples = 184</tspan><tspan x="0" y="34.8">value = [0.647, 0.353]</tspan></text></g>
<g id="n81" transform="translate(4813.5,604.65)"><rect class="d" x="-160.5" y="-45.25" width="321" height="90.5" fill="#ffffff"/><text class="t"><tspan x="0" y="-25.95">Revenue T12M &lt;= 27471000576.0</tspan><tspan x="0" y="-5.7">gini = 0.478</tspan><tspan x="0" y="14.55">samples = 142</tspan><tspan x="0" y="34.8">value = [0.606, 0.394]</tspan></text></g>
<g id="n82" transform="translate(5662,604.65)"><rect class="d" x="-161" y="-45.25" width="322" height="90.5" fill="#fffdfc"/><text class="t"><tspan x="0" y="-25.95">Revenue T12M &lt;= 36129501184.0</tspan><tspan x="0" y="-5.7">gini = 0.337</tspan><tspan x="0" y="14.55">samples = 42</tspan><tspan x="0" y="34.8">value = [0.786, 0.214]</tspan></text></g>
<g id="n83" transform="translate(5661,743.25)"><rect class="d" x="-102" y="-45.25" width="204" height="90.5" fill="#fefcfb"/><text class="t"><tspan x="0" y="-25.95">EPS T12M &lt;= 7.295</tspan><tspan x="0" y="-5.7">gini = 0.257</tspan><tspan x="0" y="14.55">samples = 33</tspan><tspan x="0" y="34.8">value = [0.848, 0.152]</tspan></text></g>
<g id="n84" transform="translate(5891,743.25)"><rect class="l" x="-102" y="-35.5" width="204" height="71" fill="#fffdfc"/><text class="t"><tspan x="0" y="-15.8">gini = 0.494</tspan><tspan x="0" y="4.45">samples = 9</tspan><tspan x="0" y="24.7">value = [0.556, 0.444]</tspan></text></g>
<g id="n85" transform="translate(5662,881.85)"><rect class="d" x="-155" y="-45.25" width="310" height="90.5" fill="#fefaf7"/><text class="t"><tspan x="0" y="-25.95">Revenue T12M &lt;= 4460450048.0</tspan><tspan x="0" y="-5.7">gini = 0.375</tspan><tspan x="0" y="14.55">samples = 12</tspan><tspan x="0" y="34.8">value = [0.75, 0.25]</tspan></text></g>
<g id="n86" transform="translate(6030.5,881.85)"><rect class="d" x="-154.5" y="-45.25" width="309" height="90.5" fill="#fefaf7"/><text class="t"><tspan x="0" y="-25.95">Revenue T12M &lt;= 8173000192.0</tspan><tspan x="0" y="-5.7">gini = 0.172</tspan><tspan x="0" y="14.55">samples = 21</tspan><tspan x="0" y="34.8">value = [0.905, 0.095]</tspan></text></g>
<g id="n87" transform="translate(5627.5,1020.45)"><rect class="l" x="-80.5" y="-35.5" width="161" height="71" fill="#fefaf6"/><text class="t"><tspan x="0" y="-15.8">gini = 0.48</tspan><tspan x="0" y="4.45">samples = 5</tspan><tspan x="0" y="24.7">value = [0.6, 0.4]</tspan></text></g>
<g id="n88" transform="translate(5835,1020.45)"><rect class="l" x="-102" y="-35.5" width="204" height="71" fill="#fcf2ea"/><text class="t"><tspan x="0" y="-15.8">gini = 0.245</tspan><tspan x="0" y="4.45">samples = 7</tspan><tspan x="0" y="24.7">value = [0.857, 0.143]</tspan></text></g>
<g id="n89" transform="translate(6031,1020.45)"><rect class="l" x="-68" y="-35.5" width="136" height="71" fill="#fcf2eb"/><text class="t"><tspan x="0" y="-15.8">gini = 0.0</tspan><tspan x="0" y="4.45">samples = 10</tspan><tspan x="0" y="24.7">value = [1, 0]</tspan></text></g>
<g id="n90" transform="translate(6227.5,1020.45)"><rect class="d" x="-102.5" y="-45.25" width="205" height="90.5" fill="#fef8f3"/><text class="t"><tspan x="0" y="-25.95">EPS T12M &lt;= 10.285</tspan><tspan x="0" y="-5.7">gini = 0.298</tspan><tspan x="0" y="14.55">samples = 11</tspan><tspan x="0" y="34.8">value = [0.818, 0.182]</tspan></text></g>
<g id="n91" transform="translate(6123,1159.05)"><rect class="l" x="-80" y="-35.5" width="160" height="71" fill="#fcefe6"/><text class="t"><tspan x="0" y="-15.8">gini = 0.32</tspan><tspan x="0" y="4.45">samples = 5</tspan><tspan x="0" y="24.7">value = [0.8, 0.2]</tspan></text></g>
<g id="n92" transform="translate(6331,1159.05)"><rect class="l" x="-102" y="-35.5" width="204" height="71" fill="#fcf1e8"/><text class="t"><tspan x="0" y="-15.8">gini = 0.278</tspan><tspan x="0" y="4.45">samples = 6</tspan><tspan x="0" y="24.7">value = [0.833, 0.167]</tspan></text></g>
<g id="n93" transform="translate(4698.5,743.25)"><rect class="d" x="-102.5" y="-45.25" width="205" height="90.5" fill="#ffffff"/><text class="t"><tspan x="0" y="-25.95">EPS T12M &lt;= 2.235</tspan><tspan x="0" y="-5.7">gini = 0.468</tspan><tspan x="0" y="14.55">samples = 123</tspan><tspan x="0" y="34.8">value = [0.626, 0.374]</tspan></text></g>
<g id="n94" transform="translate(4928,743.25)"><rect class="d" x="-102" y="-45.25" width="204" height="90.5" fill="#feffff"/><text class="t"><tspan x="0" y="-25.95">Beta:M-1 &lt;= 0.735</tspan><tspan x="0" y="-5.7">gini = 0.499</tspan><tspan x="0" y="14.55">samples = 19</tspan><tspan x="0" y="34.8">value = [0.474, 0.526]</tspan></text></g>
<g id="n95" transform="translate(4928,881.85)"><rect class="l" x="-80" y="-35.5" width="160" height="71" fill="#fcefe6"/><text class="t"><tspan x="0" y="-15.8">gini = 0.32</tspan><tspan x="0" y="4.45">samples = 5</tspan><tspan x="0" y="24.7">value = [0.8, 0.2]</tspan></text></g>
<g id="n96" transform="translate(5235,881.85)"><rect class="d" x="-202" y="-45.25" width="404" height="90.5" fill="#fbfdfe"/><text class="t"><tspan x="0" y="-25.95">GICS Sector_Consumer Discretionary &lt;= 0.5</tspan><tspan x="0" y="-5.7">gini = 0.459</tspan><tspan x="0" y="14.55">samples = 14</tspan><tspan x="0" y="34.8">value = [0.357, 0.643]</tspan></text></g>
<g id="n97" transform="translate(5232.5,1020.45)"><rect class="l" x="-102.5" y="-35.5" width="205" height="71" fill="#f2f9fd"/><text class="t"><tspan x="0" y="-15.8">gini = 0.346</tspan><tspan x="0" y="4.45">samples = 9</tspan><tspan x="0" y="24.7">value = [0.222, 0.778]</tspan></text></g>
<g id="n98" transform="translate(5441.5,1020.45)"><rect class="l" x="-80.5" y="-35.5" width="161" height="71" fill="#fefaf6"/><text class="t"><tspan x="0" y="-15.8">gini = 0.48</tspan><tspan x="0" y="4.45">samples = 5</tspan><tspan x="0" y="24.7">value = [0.6, 0.4]</tspan></text></g>
<g id="n99" transform="translate(4431.5,881.85)"><rect class="d" x="-140.5" y="-45.25" width="281" height="90.5" fill="#ffffff"/><text class="t"><tspan x="0" y="-25.95">Net Debt LF &lt;= 2736000000.0</tspan><tspan x="0" y="-5.7">gini = 0.495</tspan><tspan x="0" y="14.55">samples = 60</tspan><tspan x="0" y="34.8">value = [0.55, 0.45]</tspan></text></g>
<g id="n100" transform="translate(4699,881.85)"><rect class="d" x="-102" y="-45.25" width="204" height="90.5" fill="#fffefe"/><text class="t"><tspan x="0" y="-25.95">Beta:M-1 &lt;= 0.525</tspan><tspan x="0" y="-5.7">gini = 0.421</tspan><tspan x="0" y="14.55">samples = 63</tspan><tspan x="0" y="34.8">value = [0.698, 0.302]</tspan></text></g>
<g id="n101" transform="translate(4164,1020.45)"><rect class="d" x="-141" y="-45.25" width="282" height="90.5" fill="#ffffff"/><text class="t"><tspan x="0" y="-25.95">Net Debt LF &lt;= 1867395008.0</tspan><tspan x="0" y="-5.7">gini = 0.495</tspan><tspan x="0" y="14.55">samples = 42</tspan><tspan x="0" y="34.8">value = [0.452, 0.548]</tspan></text></g>
<g id="n102" transform="translate(4432.5,1020.45)"><rect class="d" x="-102.5" y="-45.25" width="205" height="90.5" fill="#fefbf9"/><text class="t"><tspan x="0" y="-25.95">Sharpe:M-1 &lt;= -1.615</tspan><tspan x="0" y="-5.7">gini = 0.346</tspan><tspan x="0" y="14.55">samples = 18</tspan><tspan x="0" y="34.8">value = [0.778, 0.222]</tspan></text></g>
<g id="n103" transform="translate(3943.5,1159.05)"><rect class="d" x="-130.5" y="-45.25" width="261" height="90.5" fill="#ffffff"/><text class="t"><tspan x="0" y="-25.95">Net Debt LF &lt;= 48000000.0</tspan><tspan x="0" y="-5.7">gini = 0.498</tspan><tspan x="0" y="14.55">samples = 36</tspan><tspan x="0" y="34.8">value = [0.528, 0.472]</tspan></text></g>
<g id="n104" transform="translate(4164,1159.05)"><rect class="l" x="-64" y="-35.5" width="128" height="71" fill="#deeffb"/><text class="t"><tspan x="0" y="-15.8">gini = 0.0</tspan><tspan x="0" y="4.45">samples = 6</tspan><tspan x="0" y="24.7">value = [0, 1]</tspan></text></g>
<g id="n105" transform="translate(3864.5,1297.65)"><rect class="l" x="-102.5" y="-35.5" width="205" height="71" fill="#fdf7f2"/><text class="t"><tspan x="0" y="-15.8">gini = 0.408</tspan><tspan x="0" y="4.45">samples = 7</tspan><tspan x="0" y="24.7">value = [0.714, 0.286]</tspan></text></g>
<g id="n106" transform="translate(4093.5,1297.65)"><rect class="d" x="-102.5" y="-45.25" width="205" height="90.5" fill="#ffffff"/><text class="t"><tspan x="0" y="-25.95">Beta:M-1 &lt;= 1.383</tspan><tspan x="0" y="-5.7">gini = 0.499</tspan><tspan x="0" y="14.55">samples = 29</tspan><tspan x="0" y="34.8">value = [0.483, 0.517]</tspan></text></g>
<g id="n107" transform="translate(3991,1436.25)"><rect class="l" x="-102" y="-35.5" width="204" height="71" fill="#fbfdfe"/><text class="t"><tspan x="0" y="-15.8">gini = 0.459</tspan><tspan x="0" y="4.45">samples = 14</tspan><tspan x="0" y="24.7">value = [0.357, 0.643]</tspan></text></g>
<g id="n108" transform="translate(4284.5,1436.25)"><rect class="d" x="-165.5" y="-45.25" width="331" height="90.5" fill="#fffdfc"/><text class="t"><tspan x="0" y="-25.95">Number of Employees:Y &lt;= 18800.0</tspan><tspan x="0" y="-5.7">gini = 0.48</tspan><tspan x="0" y="14.55">samples = 15</tspan><tspan x="0" y="34.8">value = [0.6, 0.4]</tspan></text></g>
<g id="n109" transform="translate(4179.5,1565)"><rect class="l" x="-102.5" y="-35.5" width="205" height="71" fill="#fefaf7"/><text class="t"><tspan x="0" y="-15.8">gini = 0.444</tspan><tspan x="0" y="4.45">samples = 9</tspan><tspan x="0" y="24.7">value = [0.667, 0.333]</tspan></text></g>
<g id="n110" transform="translate(4387.5,1565)"><rect class="l" x="-80.5" y="-35.5" width="161" height="71" fill="#ffffff"/><text class="t"><tspan x="0" y="-15.8">gini = 0.5</tspan><tspan x="0" y="4.45">samples = 6</tspan><tspan x="0" y="24.7">value = [0.5, 0.5]</tspan></text></g>
<g id="n111" transform="translate(4317,1159.05)"><rect class="l" x="-64" y="-35.5" width="128" height="71" fill="#fae6d7"/><text class="t"><tspan x="0" y="-15.8">gini = 0.0</tspan><tspan x="0" y="4.45">samples = 5</tspan><tspan x="0" y="24.7">value = [1, 0]</tspan></text></g>
<g id="n112" transform="translate(4547.5,1159.05)"><rect class="d" x="-140.5" y="-45.25" width="281" height="90.5" fill="#fefbf9"/><text class="t"><tspan x="0" y="-25.95">Net Debt LF &lt;= 5288999936.0</tspan><tspan x="0" y="-5.7">gini = 0.426</tspan><tspan x="0" y="14.55">samples = 13</tspan><tspan x="0" y="34.8">value = [0.692, 0.308]</tspan></text></g>
<g id="n113" transform="translate(4340,1297.65)"><rect class="l" x="-102" y="-35.5" width="204" height="71" fill="#fcf3ec"/><text class="t"><tspan x="0" y="-15.8">gini = 0.219</tspan><tspan x="0" y="4.45">samples = 8</tspan><tspan x="0" y="24.7">value = [0.875, 0.125]</tspan></text></g>
<g id="n114" transform="translate(4548,1297.65)"><rect class="l" x="-80" y="-35.5" width="160" height="71" fill="#f6fbfe"/><text class="t"><tspan x="0" y="-15.8">gini = 0.48</tspan><tspan x="0" y="4.45">samples = 5</tspan><tspan x="0" y="24.7">value = [0.4, 0.6]</tspan></text></g>
<g id="n115" transform="translate(4668,1020.45)"><rect class="l" x="-102" y="-35.5" width="204" height="71" fill="#f3f9fe"/><text class="t"><tspan x="0" y="-15.8">gini = 0.444</tspan><tspan x="0" y="4.45">samples = 6</tspan><tspan x="0" y="24.7">value = [0.333, 0.667]</tspan></text></g>
<g id="n116" transform="translate(4950.5,1020.45)"><rect class="d" x="-154.5" y="-45.25" width="309" height="90.5" fill="#fffefd"/><text class="t"><tspan x="0" y="-25.95">Revenue T12M &lt;= 7961593344.0</tspan><tspan x="0" y="-5.7">gini = 0.388</tspan><tspan x="0" y="14.55">samples = 57</tspan><tspan x="0" y="34.8">value = [0.737, 0.263]</tspan></text></g>
<g id="n117" transform="translate(4950.5,1159.05)"><rect class="d" x="-154.5" y="-45.25" width="309" height="90.5" fill="#fefcfb"/><text class="t"><tspan x="0" y="-25.95">Revenue T12M &lt;= 4608636928.0</tspan><tspan x="0" y="-5.7">gini = 0.271</tspan><tspan x="0" y="14.55">samples = 31</tspan><tspan x="0" y="34.8">value = [0.839, 0.161]</tspan></text></g>
<g id="n118" transform="translate(5254.5,1159.05)"><rect class="d" x="-102.5" y="-45.25" width="205" height="90.5" fill="#fffefd"/><text class="t"><tspan x="0" y="-25.95">Beta:M-1 &lt;= 0.804</tspan><tspan x="0" y="-5.7">gini = 0.473</tspan><tspan x="0" y="14.55">samples = 26</tspan><tspan x="0" y="34.8">value = [0.615, 0.385]</tspan></text></g>
<g id="n119" transform="translate(4756.5,1297.65)"><rect class="d" x="-101.5" y="-45.25" width="203" height="90.5" fill="#fefbf9"/><text class="t"><tspan x="0" y="-25.95">Sharpe:M-1 &lt;= 0.74</tspan><tspan x="0" y="-5.7">gini = 0.408</tspan><tspan x="0" y="14.55">samples = 14</tspan><tspan x="0" y="34.8">value = [0.714, 0.286]</tspan></text></g>
<g id="n120" transform="translate(5024,1297.65)"><rect class="d" x="-141" y="-45.25" width="282" height="90.5" fill="#fef8f5"/><text class="t"><tspan x="0" y="-25.95">Net Debt LF &lt;= 3970500992.0</tspan><tspan x="0" y="-5.7">gini = 0.111</tspan><tspan x="0" y="14.55">samples = 17</tspan><tspan x="0" y="34.8">value = [0.941, 0.059]</tspan></text></g>
<g id="n121" transform="translate(4557,1436.25)"><rect class="l" x="-80" y="-35.5" width="160" height="71" fill="#fefaf6"/><text class="t"><tspan x="0" y="-15.8">gini = 0.48</tspan><tspan x="0" y="4.45">samples = 5</tspan><tspan x="0" y="24.7">value = [0.6, 0.4]</tspan></text></g>
<g id="n122" transform="translate(4765,1436.25)"><rect class="l" x="-102" y="-35.5" width="204" height="71" fill="#fdf7f2"/><text class="t"><tspan x="0" y="-15.8">gini = 0.346</tspan><tspan x="0" y="4.45">samples = 9</tspan><tspan x="0" y="24.7">value = [0.778, 0.222]</tspan></text></g>
<g id="n123" transform="translate(4962.5,1436.25)"><rect class="l" x="-68.5" y="-35.5" width="137" height="71" fill="#fdf5ef"/><text class="t"><tspan x="0" y="-15.8">gini = 0.0</tspan><tspan x="0" y="4.45">samples = 12</tspan><tspan x="0" y="24.7">value = [1, 0]</tspan></text></g>
<g id="n124" transform="translate(5136,1436.25)"><rect class="l" x="-80" y="-35.5" width="160" height="71" fill="#fcefe6"/><text class="t"><tspan x="0" y="-15.8">gini = 0.32</tspan><tspan x="0" y="4.45">samples = 5</tspan><tspan x="0" y="24.7">value = [0.8, 0.2]</tspan></text></g>
<g id="n125" transform="translate(5255,1297.65)"><rect class="l" x="-65" y="-35.5" width="130" height="71" fill="#fbeade"/><text class="t"><tspan x="0" y="-15.8">gini = 0.0</tspan><tspan x="0" y="4.45">samples = 6</tspan><tspan x="0" y="24.7">value = [1, 0]</tspan></text></g>
<g id="n126" transform="translate(5504,1297.65)"><rect class="d" x="-161" y="-45.25" width="322" height="90.5" fill="#ffffff"/><text class="t"><tspan x="0" y="-25.95">Revenue T12M &lt;= 14702748160.0</tspan><tspan x="0" y="-5.7">gini = 0.5</tspan><tspan x="0" y="14.55">samples = 20</tspan><tspan x="0" y="34.8">value = [0.5, 0.5]</tspan></text></g>
<g id="n127" transform="translate(5414.5,1436.25)"><rect class="d" x="-140.5" y="-45.25" width="281" height="90.5" fill="#fbfdfe"/><text class="t"><tspan x="0" y="-25.95">Net Debt LF &lt;= 2355005568.0</tspan><tspan x="0" y="-5.7">gini = 0.473</tspan><tspan x="0" y="14.55">samples = 13</tspan><tspan x="0" y="34.8">value = [0.385, 0.615]</tspan></text></g>
<g id="n128" transform="translate(5682,1436.25)"><rect class="l" x="-102" y="-35.5" width="204" height="71" fill="#fdf7f2"/><text class="t"><tspan x="0" y="-15.8">gini = 0.408</tspan><tspan x="0" y="4.45">samples = 7</tspan><tspan x="0" y="24.7">value = [0.714, 0.286]</tspan></text></g>
<g id="n129" transform="translate(5309,1565)"><rect class="l" x="-102" y="-35.5" width="204" height="71" fill="#ecf6fd"/><text class="t"><tspan x="0" y="-15.8">gini = 0.219</tspan><tspan x="0" y="4.45">samples = 8</tspan><tspan x="0" y="24.7">value = [0.125, 0.875]</tspan></text></g>
<g id="n130" transform="translate(5517.5,1565)"><rect class="l" x="-79.5" y="-35.5" width="159" height="71" fill="#fcefe6"/><text class="t"><tspan x="0" y="-15.8">gini = 0.32</tspan><tspan x="0" y="4.45">samples = 5</tspan><tspan x="0" y="24.7">value = [0.8, 0.2]</tspan></text></g>
</svg>
